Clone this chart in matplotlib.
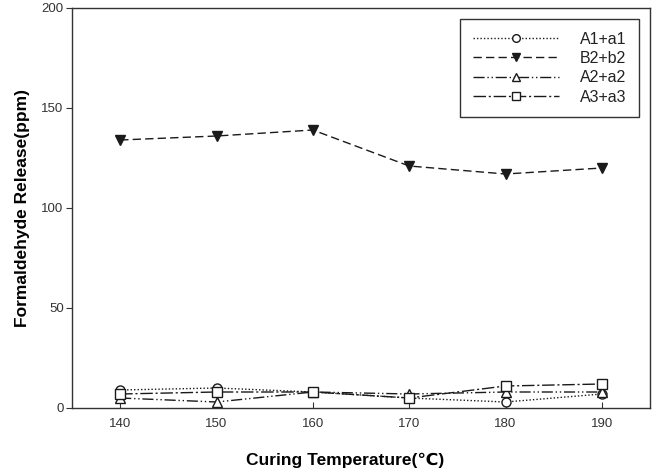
import matplotlib
matplotlib.use("Agg")
import matplotlib.pyplot as plt

plt.rcParams['font.family'] = ['Liberation Sans', 'DejaVu Sans']

temps = [140, 150, 160, 170, 180, 190]
a1 = [9, 10, 8, 5, 3, 7]
b2 = [134, 136, 139, 121, 117, 120]
a2 = [5, 3, 8, 7, 8, 8]
a3 = [7, 8, 8, 5, 11, 12]
labels = ["A1+a1", "B2+b2", "A2+a2", "A3+a3"]

fig = plt.figure(figsize=(6.57, 4.71), dpi=100)
ax = fig.add_axes([72/657, 63/471, 578/657, 400/471])

c = '#1a1a1a'
ms = 6.5
ax.plot(temps, a1, linestyle=(0, (1, 1.5)), color=c, lw=1, marker='o', mfc='white', mec=c, ms=ms, label=labels[0])
ax.plot(temps, b2, linestyle=(0, (6, 3)), color=c, lw=1, marker='v', mfc=c, mec=c, ms=ms, label=labels[1])
ax.plot(temps, a2, linestyle=(0, (8, 2, 1, 2, 1, 2)), color=c, lw=1, marker='^', mfc='white', mec=c, ms=ms, label=labels[2])
ax.plot(temps, a3, linestyle=(0, (9, 2, 1.5, 2)), color=c, lw=1, marker='s', mfc='white', mec=c, ms=ms, label=labels[3])

ax.set_xlim(135, 195)
ax.set_ylim(0, 200)
ax.set_xticks(temps)
ax.set_yticks([0, 50, 100, 150, 200])
ax.tick_params(axis='x', direction='in', labelsize=9.5, colors='#333333', length=4, pad=7)
ax.tick_params(axis='y', direction='out', labelsize=9.5, colors='#333333', length=4, pad=2)
for s in ax.spines.values():
    s.set_color('#333333')
    s.set_linewidth(1)

ax.set_xlabel("Curing Temperature(℃)", fontsize=12.5, fontweight='bold')
ax.xaxis.set_label_coords((345 - 72) / 578, -(460 - 408) / 400, transform=ax.transAxes)
ax.xaxis.label.set_va('center')
ax.set_ylabel("Formaldehyde Release(ppm)", fontsize=12.5, fontweight='bold')
ax.yaxis.set_label_coords(-(72 - 22) / 578, 0.5, transform=ax.transAxes)
ax.yaxis.label.set_va('center')

leg = ax.legend(loc='upper right', bbox_to_anchor=(1 - 11/578, 1 - 11/400), borderaxespad=0,
                numpoints=1, handlelength=5.4, markerscale=0.85,
                fontsize=11.5, fancybox=False, edgecolor='#333333', framealpha=1,
                borderpad=0.8, labelspacing=0.27, handletextpad=1.3, markerfirst=True)
leg.get_frame().set_linewidth(1)
for t in leg.get_texts():
    t.set_color('#222222')

fig.savefig("out.png", dpi=100)
